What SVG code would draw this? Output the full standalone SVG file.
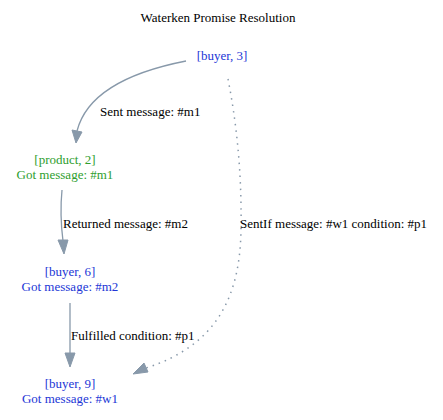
<svg xmlns="http://www.w3.org/2000/svg" width="443" height="420" viewBox="0 0 443 420" font-family="Liberation Serif, Times New Roman, serif">
<style>
text{font-family:'Liberation Serif','Times New Roman',serif;font-size:13px;text-anchor:middle}
.lbl{text-anchor:start;fill:#000}
.blue{fill:#2236d6}
.green{fill:#2e9e2e}
.e{fill:none;stroke:#8899aa;stroke-width:1.3}
.dot{stroke-dasharray:1.5,5;stroke-width:1.5}
.ah{fill:#8899aa;stroke:#8899aa}
</style>
<rect width="443" height="420" fill="#fff"/>
<text x="218" y="22">Waterken Promise Resolution</text>
<g id="edges">
<path class="e" d="M186,61 C140,70 88,88 77,131"/>
<polygon class="ah" points="72,130 82,132 76,143"/>
<text class="lbl" x="100" y="116">Sent message: #m1</text>
<path class="e" d="M62,190 C60,210 61,225 63,241"/>
<polygon class="ah" points="58,240 68,240 64,254"/>
<text class="lbl" x="63" y="228">Returned message: #m2</text>
<path class="e" d="M70,303 L70,354"/>
<polygon class="ah" points="65,353 75,353 70,367"/>
<text class="lbl" x="71" y="340">Fulfilled condition: #p1</text>
<path class="e dot" d="M228,79 C236,120 242,170 241,230 C240,295 218,345 146,368"/>
<polygon class="ah" points="144,363 148,372 133,374"/>
<text class="lbl" x="240" y="228">SentIf message: #w1 condition: #p1</text>
</g>
<g id="buyer3"><text class="blue" x="222" y="60">[buyer, 3]</text></g>
<g id="product2"><text class="green" x="65" y="164">[product, 2]</text><text class="green" x="65" y="179">Got message: #m1</text></g>
<g id="buyer6"><text class="blue" x="70" y="276">[buyer, 6]</text><text class="blue" x="70" y="291">Got message: #m2</text></g>
<g id="buyer9"><text class="blue" x="70" y="388">[buyer, 9]</text><text class="blue" x="70" y="403">Got message: #w1</text></g>
</svg>
